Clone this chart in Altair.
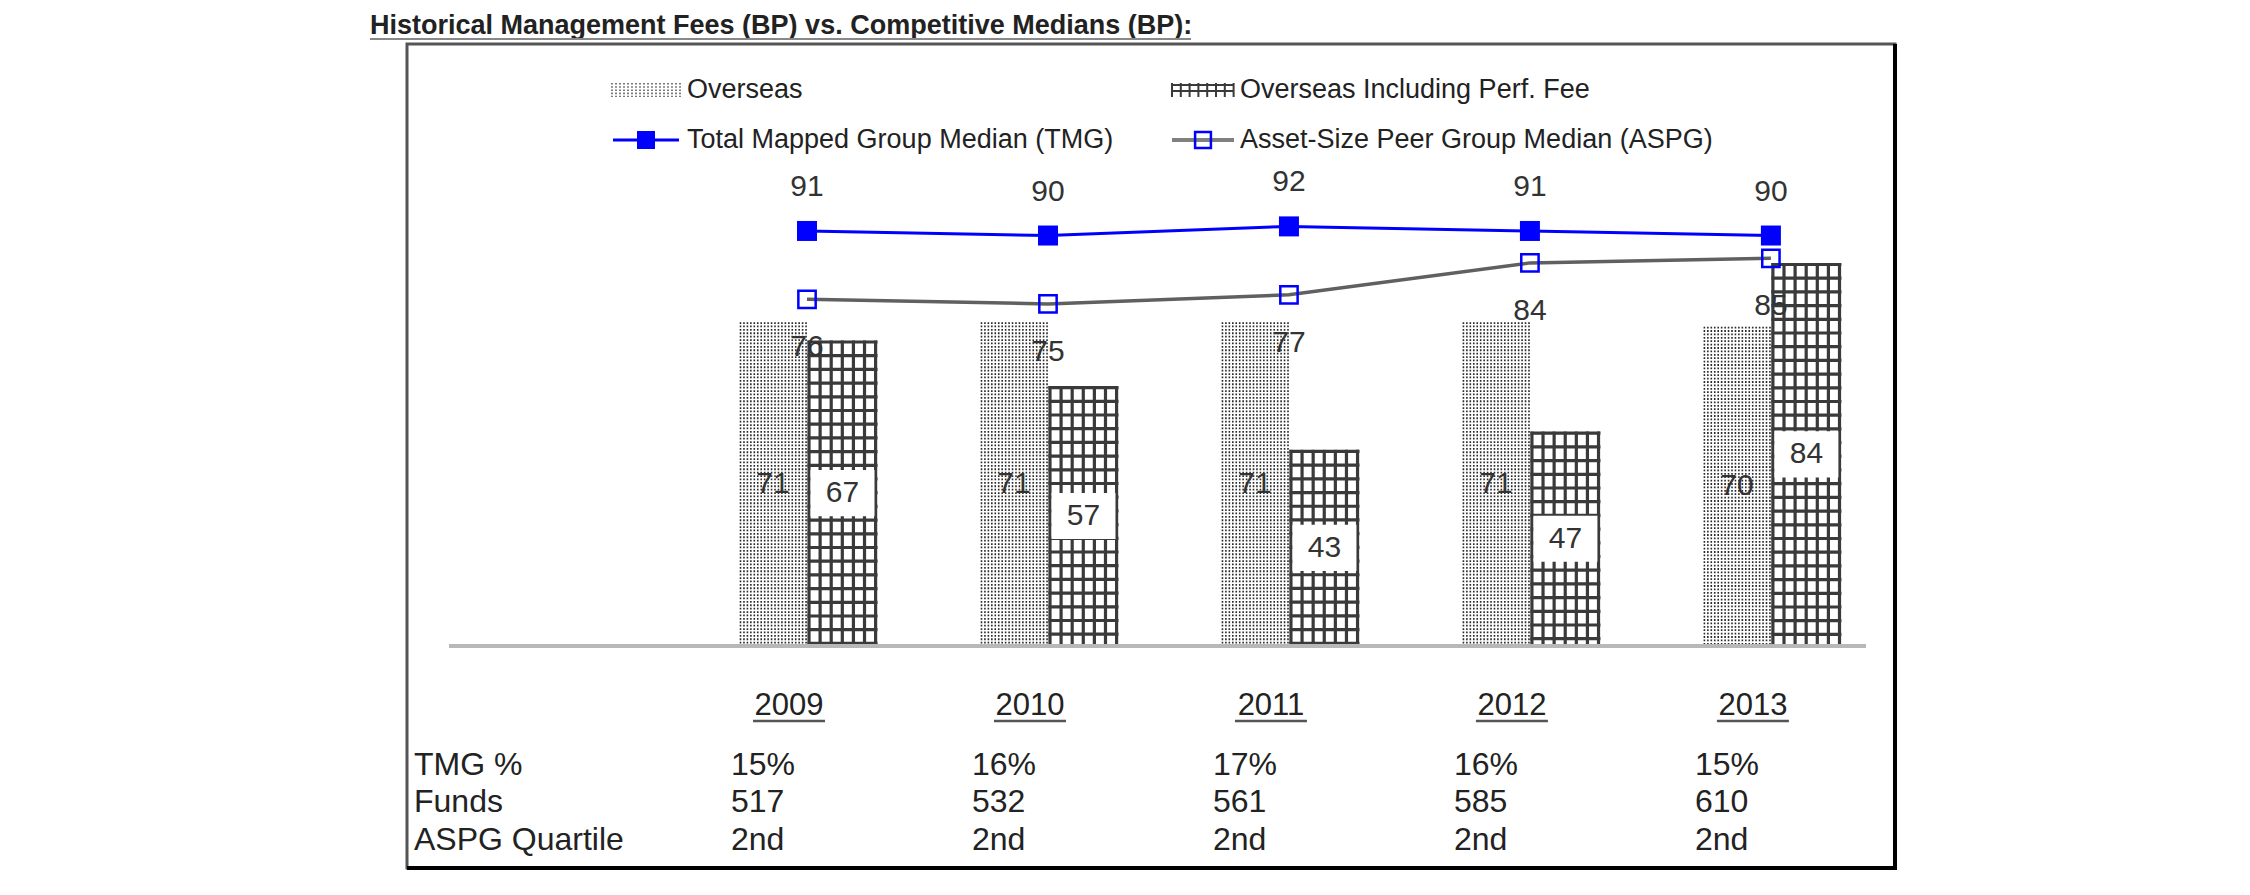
import altair as alt
import pandas as pd

# ---------------- data ----------------
years = [2009, 2010, 2011, 2012, 2013]
overseas = [71, 71, 71, 71, 70]
overseas_perf = [67, 57, 43, 47, 84]
tmg_median = [91, 90, 92, 91, 90]
aspg_median = [76, 75, 77, 84, 85]
tmg_pct = ["15%", "16%", "17%", "16%", "15%"]
funds = ["517", "532", "561", "585", "610"]
aspg_quartile = ["2nd", "2nd", "2nd", "2nd", "2nd"]
row_labels = ["TMG %", "Funds", "ASPG Quartile"]
series_names = [
    "Overseas",
    "Overseas Including Perf. Fee",
    "Total Mapped Group Median (TMG)",
    "Asset-Size Peer Group Median (ASPG)",
]
title_text = "Historical Management Fees (BP) vs. Competitive Medians (BP):"

df = pd.DataFrame({
    "year": years, "ov": overseas, "perf": overseas_perf,
    "tmg": tmg_median, "aspg": aspg_median,
    "pct": tmg_pct, "funds": funds, "quart": aspg_quartile,
})

# ---------------- layout / style ----------------
W, H = 1488, 824
FONT = "Liberation Sans"
TXT = "#222222"
LBL = "#333333"
GRID_DARK = "#3a3a3a"
DOT_DARK = "#2a2a2a"

xs = alt.Scale(domain=[2007.34, 2013.515], nice=False, zero=False)
ys = alt.Scale(domain=[-48.7, 132.0], nice=False, zero=False)
X = alt.X("year:Q", scale=xs, axis=None)


def Y(f):
    return alt.Y(f"{f}:Q", scale=ys, axis=None)


base = alt.Chart(df).transform_calculate(zero="0", ovmid="datum.ov/2", perfmid="datum.perf/2")
one = pd.DataFrame({"k": [0]})


def txt(s, **kw):
    return alt.Chart(pd.DataFrame({"t": [s]})).mark_text(font=FONT, color=TXT, **kw)


layers = []

# bars: Overseas (dotted texture: columns of dots)
for k in range(20):
    off = -66.5 + k * 3.45
    layers.append(base.mark_rule(xOffset=off, strokeWidth=1.6, color=DOT_DARK,
                                 strokeDash=[1.8, 1.6]).encode(
        x=X, y=Y("ov"), y2="zero:Q"))

# bars: Overseas incl. perf fee (grid texture)
for k in range(7):
    off = 2 + k * 11.1
    layers.append(base.mark_rule(xOffset=off, strokeWidth=3.2, color=GRID_DARK).encode(
        x=X, y=Y("perf"), y2="zero:Q"))
layers.append(base.mark_rule(xOffset=35.5, strokeWidth=70, color=GRID_DARK, strokeDash=[3.2, 10.5]).encode(
    x=X, y=Y("perf"), y2="zero:Q"))

# baseline
layers.append(base.mark_rule(color="#b8b8b8", strokeWidth=4).encode(
    x=alt.value(42), x2=alt.value(1459), y=Y("zero")))

# white label boxes in grid bars
layers.append(base.mark_point(
    shape="M-1,-0.72L1,-0.72L1,0.72L-1,0.72Z", filled=True, fill="white", size=4096,
    opacity=1, strokeWidth=0, xOffset=35.5).encode(x=X, y=Y("perfmid")))

# bar labels
layers.append(base.mark_text(font=FONT, fontSize=30, color=LBL, dx=-34).encode(
    x=X, y=Y("ovmid"), text="ov:Q"))
layers.append(base.mark_text(font=FONT, fontSize=30, color=LBL, dx=35.5).encode(
    x=X, y=Y("perfmid"), text="perf:Q"))

# lines
layers.append(base.mark_line(color="#0000ff", strokeWidth=3).encode(x=X, y=Y("tmg")))
layers.append(base.mark_line(color="#606060", strokeWidth=3.5).encode(x=X, y=Y("aspg")))
layers.append(base.mark_square(size=400, color="#0000ff", opacity=1).encode(x=X, y=Y("tmg")))
layers.append(base.mark_square(size=300, filled=False, color="#0000ff", strokeWidth=2.5, opacity=1).encode(
    x=X, y=Y("aspg")))
layers.append(base.mark_text(font=FONT, fontSize=30, color=LBL, dy=-44).encode(
    x=X, y=Y("tmg"), text="tmg:Q"))
layers.append(base.mark_text(font=FONT, fontSize=30, color=LBL, dy=48).encode(
    x=X, y=Y("aspg"), text="aspg:Q"))

# year labels with underline
layers.append(base.mark_text(font=FONT, fontSize=31, color=TXT, dx=-18).encode(
    x=X, y=alt.value(662), text="year:N"))
layers.append(base.mark_rule(color="#555555", strokeWidth=2.5, xOffset=-54, x2Offset=18).encode(
    x=X, x2="year:Q", y=alt.value(677)))

# table rows
row_y = [721, 758, 796]
for i, f in enumerate(["pct", "funds", "quart"]):
    layers.append(base.mark_text(font=FONT, fontSize=32, color=TXT, align="left", dx=-76).encode(
        x=X, y=alt.value(row_y[i]), text=f"{f}:N"))
    layers.append(txt(row_labels[i], fontSize=32, align="left").encode(
        x=alt.value(7), y=alt.value(row_y[i]), text="t:N"))

# legend
ly1, ly2 = 46, 96
for k in range(18):
    lxk = 205 + k * 4
    layers.append(alt.Chart(one).mark_rule(color="#444444", strokeWidth=1.4, strokeDash=[1.6, 1.6]).encode(
        x=alt.value(lxk), y=alt.value(ly1 - 7), y2=alt.value(ly1 + 7)))
for k in range(8):
    lxk = 765 + k * 8.8
    layers.append(alt.Chart(one).mark_rule(color=GRID_DARK, strokeWidth=2).encode(
        x=alt.value(lxk), y=alt.value(ly1 - 7), y2=alt.value(ly1 + 7)))
layers.append(alt.Chart(one).mark_rule(color=GRID_DARK, strokeWidth=2).encode(
    x=alt.value(764), x2=alt.value(827), y=alt.value(ly1 - 5)))
layers.append(alt.Chart(one).mark_rule(color=GRID_DARK, strokeWidth=2).encode(
    x=alt.value(764), x2=alt.value(827), y=alt.value(ly1 + 1)))
layers.append(alt.Chart(one).mark_rule(color="#0000ff", strokeWidth=3).encode(
    x=alt.value(206), x2=alt.value(272), y=alt.value(ly2)))
layers.append(alt.Chart(one).mark_square(size=324, color="#0000ff", opacity=1).encode(
    x=alt.value(239), y=alt.value(ly2)))
layers.append(alt.Chart(one).mark_rule(color="#808080", strokeWidth=4).encode(
    x=alt.value(765), x2=alt.value(827), y=alt.value(ly2)))
layers.append(alt.Chart(one).mark_square(size=250, filled=False, color="#0000ff", strokeWidth=2.5, opacity=1).encode(
    x=alt.value(796), y=alt.value(ly2)))
leg_pos = [(280, ly1), (833, ly1), (280, ly2), (833, ly2)]
for name, (lx, lyy) in zip(series_names, leg_pos):
    layers.append(txt(name, fontSize=27, align="left").encode(
        x=alt.value(lx), y=alt.value(lyy), text="t:N"))

# title + underline
layers.append(txt(title_text, fontSize=27, fontWeight="bold", align="left").encode(
    x=alt.value(-37), y=alt.value(-18), text="t:N"))
layers.append(alt.Chart(one).mark_rule(color="#888888", strokeWidth=2).encode(
    x=alt.value(-37), x2=alt.value(784), y=alt.value(-5)))

# box right / bottom dark edges
layers.append(alt.Chart(one).mark_rule(color="#000000", strokeWidth=4).encode(
    x=alt.value(W), y=alt.value(0), y2=alt.value(H)))
layers.append(alt.Chart(one).mark_rule(color="#000000", strokeWidth=4).encode(
    x=alt.value(0), x2=alt.value(W + 2), y=alt.value(H)))

chart = alt.layer(*layers).properties(
    width=W, height=H,
    padding={"left": 407, "top": 44, "right": 355, "bottom": 27},
    autosize=alt.AutoSizeParams(type="none"),
).configure_view(stroke="#555555", strokeWidth=3)

chart.save("out.html", embed_options={"renderer": "svg", "actions": False})
